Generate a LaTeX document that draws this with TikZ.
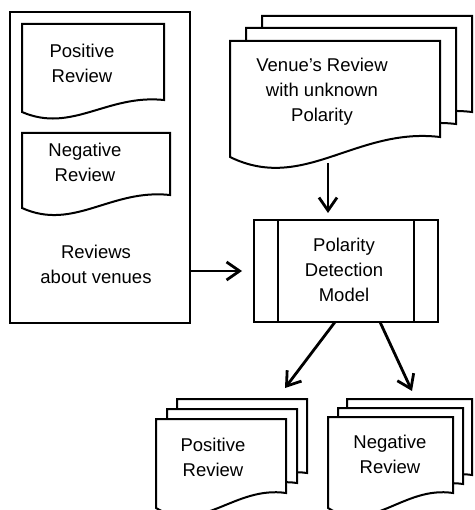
\documentclass[tikz,border=0pt]{standalone}
\usepackage{fontspec}
\setmainfont{Liberation Sans}
\usetikzlibrary{arrows.meta,calc}
\tikzset{
  box/.style={line width=2pt, line join=miter},
  frame/.style={box, draw, rectangle, inner sep=0pt, outer sep=0pt},
  docnode/.style={rectangle, inner sep=0pt, outer sep=0pt},
  lbl/.style={align=center, inner sep=0pt, font=\fontsize{18.5}{25}\selectfont},
  arr/.style={line width=2.8pt, -{Straight Barb[length=13pt,width=18pt]}},
}
\newcommand\docoutline[2]{%
  \draw[box,fill=white] (#1.south west) -- (#1.north west) -- (#1.north east)
    -- ($(#1.south east)+(0,-#2)$)
    .. controls ($(#1.south west)!0.6!(#1.south east)+(0,-#2*1.5)$)
    and ($(#1.south west)!0.35!(#1.south east)+(0,#2*1.8)$) .. (#1.south west) -- cycle;}
\begin{document}
\begin{tikzpicture}[x=1pt,y=-1pt]
\useasboundingbox (0,0) rectangle (474,510);

% left container
\node[frame, minimum width=180pt, minimum height=311pt] (venues) at (100,167.5) {};
\node[docnode, minimum width=142pt, minimum height=88pt] (pos) at (93,68) {};
\docoutline{pos}{12}
\node[lbl] (postext) at (82,63) {Positive\\Review};
\node[docnode, minimum width=148pt, minimum height=75pt] (neg) at (96,170.5) {};
\docoutline{neg}{13}
\node[lbl] (negtext) at (85,162) {Negative\\Review};
\node[lbl] (revtext) at (96,264.5) {Reviews\\about venues};

% top-right stack
\node[docnode, minimum width=210pt, minimum height=116pt] (vback) at (367,74) {};
\docoutline{vback}{20}
\node[docnode, minimum width=210pt, minimum height=116pt] (vmid) at (351,86) {};
\docoutline{vmid}{20}
\node[docnode, minimum width=210pt, minimum height=116pt] (vfront) at (335,99) {};
\docoutline{vfront}{20}
\node[lbl] (vtext) at (322,92) {Venue’s Review\\with unknown\\Polarity};

% process
\node[frame, minimum width=184pt, minimum height=102pt] (proc) at (346,271) {};
\draw[box] ([xshift=24pt]proc.north west) -- ([xshift=24pt]proc.south west);
\draw[box] ([xshift=-24pt]proc.north east) -- ([xshift=-24pt]proc.south east);
\node[lbl] (proctext) at (344,270) {Polarity\\Detection\\Model};

% bottom-left stack
\node[docnode, minimum width=130pt, minimum height=89pt] (pback) at (242,443.5) {};
\docoutline{pback}{15}
\node[docnode, minimum width=130pt, minimum height=89pt] (pmid) at (232,453.5) {};
\docoutline{pmid}{15}
\node[docnode, minimum width=130pt, minimum height=89pt] (pfront) at (221,463.5) {};
\docoutline{pfront}{15}
\node[lbl] (ptext) at (213,457.5) {Positive\\Review};

% bottom-right stack
\node[docnode, minimum width=125pt, minimum height=91pt] (nback) at (409.5,444.5) {};
\docoutline{nback}{15}
\node[docnode, minimum width=125pt, minimum height=91pt] (nmid) at (400.5,453.5) {};
\docoutline{nmid}{15}
\node[docnode, minimum width=125pt, minimum height=91pt] (nfront) at (390.5,462.5) {};
\docoutline{nfront}{15}
\node[lbl] (ntext) at (390,454.5) {Negative\\Review};

% arrows
\draw[arr] (venues.east |- proc.west) -- ([xshift=-12pt]proc.west);
\draw[arr] ([xshift=-7pt,yshift=-6pt]vfront.south) -- ([xshift=-18pt,yshift=7pt]proc.north);
\draw[arr] ([xshift=-11pt]proc.south) -- ([xshift=-1pt,yshift=31pt]pfront.north east);
\draw[arr] ([xshift=34pt]proc.south) -- ([xshift=21.5pt,yshift=26pt]nfront.north);
\end{tikzpicture}
\end{document}
